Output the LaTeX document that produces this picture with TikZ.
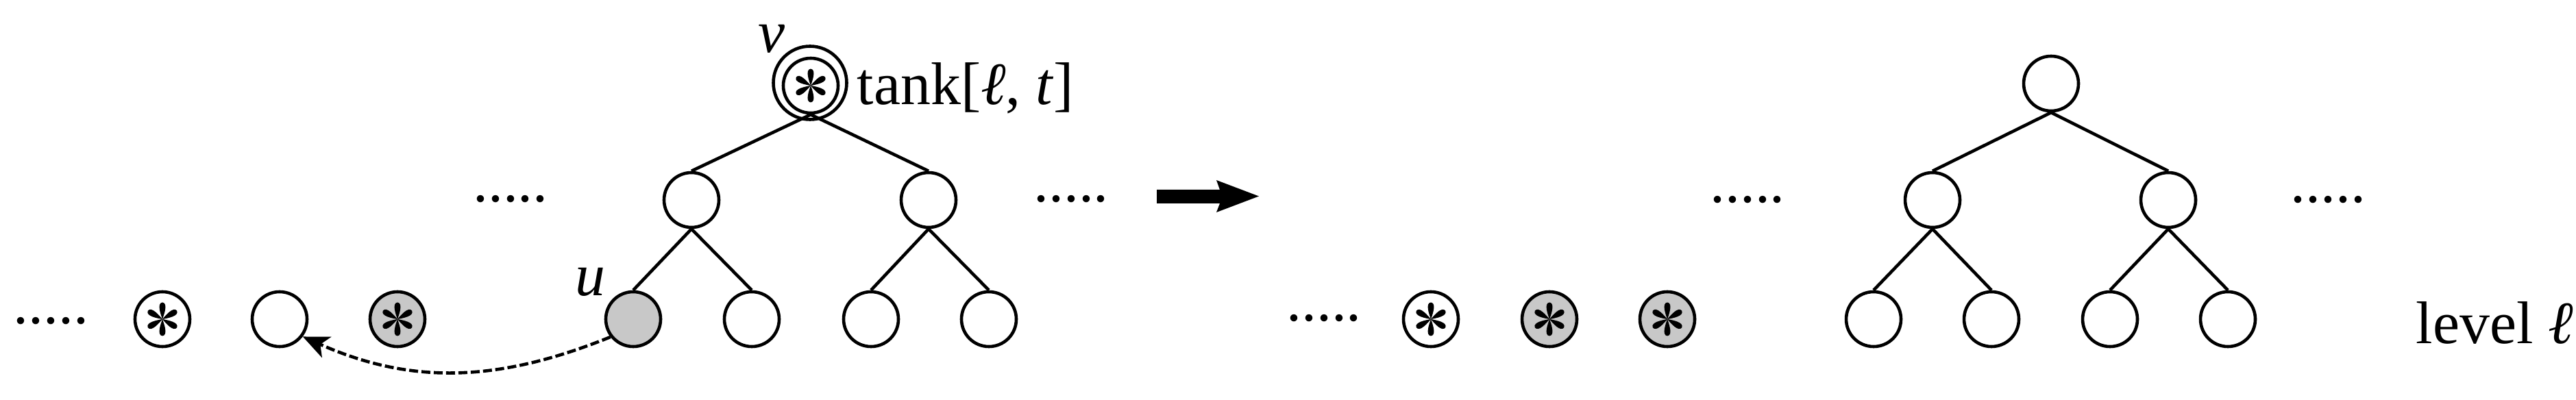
\documentclass[tikz,border=0pt]{standalone}
\usepackage{fontspec}
\setmainfont{Liberation Serif}
\usetikzlibrary{arrows.meta}
\definecolor{nodegray}{RGB}{200,200,200}
\tikzset{
  nd/.style={circle, draw, line width=0.046cm, minimum size=0.80cm, inner sep=0pt, fill=white},
  gnd/.style={nd, fill=nodegray},
  star/.style={path picture={
    \begin{scope}[shift={(path picture bounding box.center)}]
      \foreach \a in {90,150,210,270,330,390}{
        \fill[black] (0,0) .. controls (\a+20:0.074) and (\a+20:0.25) .. (\a:0.245)
          .. controls (\a-20:0.25) and (\a-20:0.074) .. (0,0);
      }
    \end{scope}}},
  edge/.style={line width=0.046cm},
  txt/.style={font=\fontsize{25}{30}\selectfont, inner sep=0pt},
  dotrow/.style={txt, anchor=base},
  move/.style={line width=0.046cm, dash pattern=on 0.13cm off 0.05cm,
    -{Stealth[length=0.38cm, width=0.33cm, inset=0.1cm]}},
}
\begin{document}
\begin{tikzpicture}
\useasboundingbox (0,0) rectangle (37.59,-5.84);
% ---------- left half ----------
\node[dotrow] (dl1) at (0.745,-4.73) {.....};
\node[nd, star] (c1) at (2.37,-4.66) {};
\node[nd] (c2) at (4.08,-4.66) {};
\node[gnd, star] (c3) at (5.80,-4.66) {};
\node[dotrow] (dl2) at (7.45,-2.95) {.....};
\node[dotrow] (dl3) at (15.63,-2.95) {.....};

\node[gnd] (u) at (9.24,-4.66) {};
\node[nd] (l2) at (10.97,-4.66) {};
\node[nd] (l3) at (12.71,-4.66) {};
\node[nd] (l4) at (14.43,-4.66) {};
\node[nd] (m1) at (10.09,-2.92) {};
\node[nd] (m2) at (13.55,-2.92) {};
\node[circle, draw, line width=0.046cm, minimum size=1.07cm, inner sep=0pt] (vout) at (11.82,-1.21) {};
\node[nd, star] (v) at (11.83,-1.25) {};

\draw[edge] (v.south) -- (m1.north);
\draw[edge] (v.south) -- (m2.north);
\draw[edge] (m1.south) -- (u.north);
\draw[edge] (m1.south) -- (l2.north);
\draw[edge] (m2.south) -- (l3.north);
\draw[edge] (m2.south) -- (l4.north);

\node[txt, anchor=base] (ulab) at (8.61,-4.32) {\textit{u}};
\node[txt, anchor=base] (vlab) at (11.26,-0.77) {\textit{v}};
\node[txt, anchor=base west] (tank) at (12.50,-1.53) {tank[\textit{ℓ}, \textit{t}]};

\draw[move] (u.218) to[out=202, in=-24] (c2.-37);

% ---------- big arrow ----------
\coordinate (a1) at (16.88,-2.77);
\coordinate (a2) at (17.80,-2.77);
\coordinate (a3) at (17.75,-2.63);
\coordinate (a4) at (18.37,-2.865);
\coordinate (a5) at (17.75,-3.10);
\coordinate (a6) at (17.80,-2.97);
\coordinate (a7) at (16.88,-2.97);
\fill (a1) -- (a2) -- (a3) -- (a4) -- (a5) -- (a6) -- (a7) -- cycle;

% ---------- right half ----------
\node[dotrow] (dr1) at (19.32,-4.69) {.....};
\node[nd, star] (s1) at (20.88,-4.66) {};
\node[gnd, star] (s2) at (22.61,-4.66) {};
\node[gnd, star] (s3) at (24.33,-4.66) {};
\node[dotrow] (dr2) at (25.50,-2.96) {.....};
\node[dotrow] (dr3) at (33.97,-2.96) {.....};

\node[nd] (R) at (29.93,-1.22) {};
\node[nd] (Rm1) at (28.20,-2.92) {};
\node[nd] (Rm2) at (31.64,-2.92) {};
\node[nd] (Rl1) at (27.34,-4.66) {};
\node[nd] (Rl2) at (29.06,-4.66) {};
\node[nd] (Rl3) at (30.79,-4.66) {};
\node[nd] (Rl4) at (32.51,-4.66) {};
\draw[edge] (R.south) -- (Rm1.north);
\draw[edge] (R.south) -- (Rm2.north);
\draw[edge] (Rm1.south) -- (Rl1.north);
\draw[edge] (Rm1.south) -- (Rl2.north);
\draw[edge] (Rm2.south) -- (Rl3.north);
\draw[edge] (Rm2.south) -- (Rl4.north);

\node[txt, anchor=base west] (lev) at (35.25,-5.02) {level \textit{ℓ}};
\end{tikzpicture}
\end{document}
